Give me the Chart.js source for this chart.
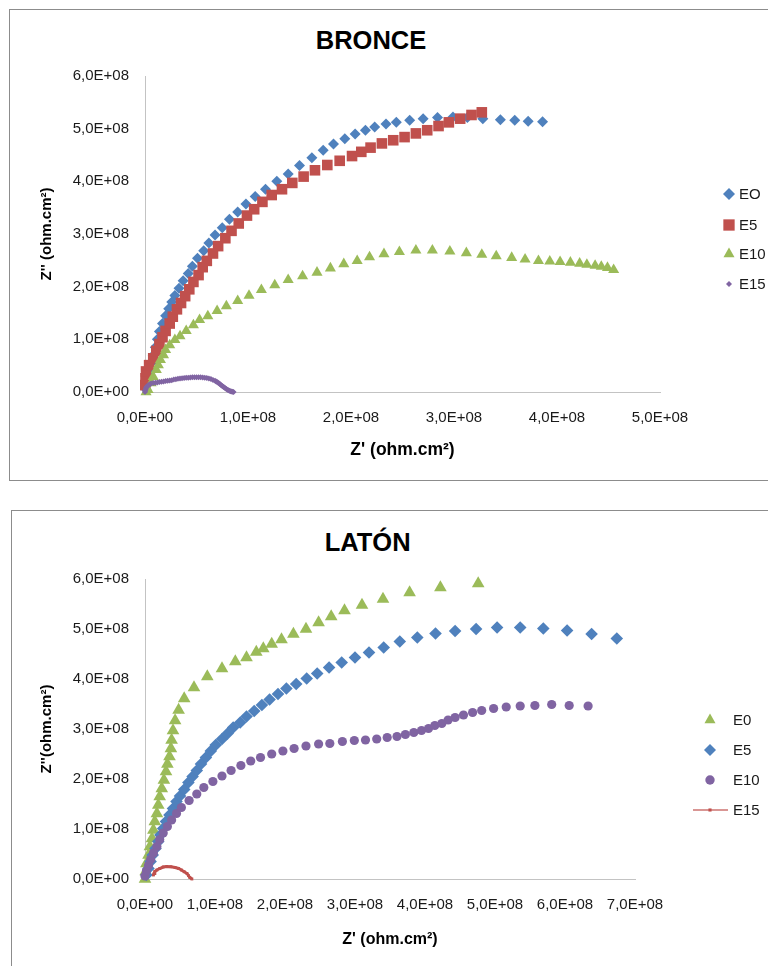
<!DOCTYPE html>
<html>
<head>
<meta charset="utf-8">
<script src="https://cdn.jsdelivr.net/npm/chart.js@4.4.1/dist/chart.umd.min.js"></script>
<style>
html,body{margin:0;padding:0;background:#fff;}
body{width:768px;height:966px;overflow:hidden;position:relative;font-family:"Liberation Sans",Arial,sans-serif;}
.frame{position:absolute;border:1px solid #8c8c8c;box-sizing:border-box;}
#f1{left:9px;top:9px;width:800px;height:472px;}
#f2{left:11px;top:510px;width:800px;height:500px;}
.title{position:absolute;font-weight:bold;font-size:25.5px;line-height:25.5px;white-space:nowrap;transform:translateX(-50%);color:#000;}
#t1{left:371px;top:27.5px;}
#t2{left:367.6px;top:529.5px;}
canvas{position:absolute;left:0;}
#c1{top:0;}
#c2{top:490px;}
</style>
</head>
<body>
<div class="frame" id="f1"></div>
<div class="frame" id="f2"></div>
<div class="title" id="t1">BRONCE</div>
<div class="title" id="t2">LATÓN</div>
<canvas id="c1" width="768" height="490"></canvas>
<canvas id="c2" width="768" height="476"></canvas>
<script>
// ---------- DATA (Z' and Z'' in units of 1E+08 ohm.cm²) ----------
const UNIT = 1e8;

// BRONCE
const bronceLabels = ['EO', 'E5', 'E10', 'E15'];
const bronceXTicks = ['0,0E+00', '1,0E+08', '2,0E+08', '3,0E+08', '4,0E+08', '5,0E+08'];
const bronceYTicks = ['0,0E+00', '1,0E+08', '2,0E+08', '3,0E+08', '4,0E+08', '5,0E+08', '6,0E+08'];

const bronceE0x = [0.01,0.02,0.03,0.045,0.06,0.08,0.10,0.12,0.14,0.17,0.20,0.23,0.26,0.29,0.33,0.37,0.42,0.46,0.51,0.57,0.62,0.68,0.75,0.82,0.90,0.98,1.07,1.17,1.28,1.39,1.50,1.62,1.73,1.83,1.94,2.04,2.14,2.23,2.34,2.44,2.57,2.70,2.84,2.99,3.13,3.28,3.45,3.59,3.72,3.86];
const bronceE0y = [0.05,0.15,0.27,0.40,0.55,0.70,0.85,1.00,1.15,1.30,1.45,1.58,1.71,1.83,1.97,2.11,2.25,2.39,2.54,2.68,2.83,2.98,3.12,3.28,3.42,3.57,3.71,3.85,4.00,4.14,4.30,4.45,4.59,4.71,4.81,4.90,4.97,5.03,5.09,5.12,5.16,5.19,5.21,5.22,5.21,5.19,5.17,5.16,5.14,5.13];

const bronceE5x = [0.003,0.005,0.01,0.04,0.08,0.11,0.14,0.17,0.20,0.24,0.27,0.31,0.35,0.39,0.43,0.47,0.52,0.56,0.60,0.66,0.71,0.78,0.84,0.91,0.99,1.06,1.14,1.23,1.33,1.43,1.54,1.65,1.77,1.89,2.01,2.10,2.19,2.30,2.41,2.52,2.63,2.74,2.85,2.95,3.06,3.17,3.27];
const bronceE5y = [0.13,0.26,0.39,0.51,0.64,0.78,0.91,1.04,1.16,1.30,1.43,1.57,1.69,1.82,1.95,2.09,2.22,2.37,2.49,2.63,2.77,2.92,3.06,3.20,3.35,3.47,3.61,3.74,3.85,3.97,4.09,4.21,4.31,4.39,4.48,4.56,4.64,4.72,4.78,4.84,4.91,4.97,5.05,5.12,5.19,5.26,5.31];

const bronceE10x = [0.01,0.03,0.06,0.08,0.11,0.13,0.15,0.18,0.20,0.24,0.29,0.34,0.40,0.47,0.53,0.61,0.70,0.79,0.90,1.01,1.13,1.26,1.39,1.53,1.67,1.80,1.93,2.06,2.18,2.32,2.47,2.63,2.79,2.96,3.12,3.27,3.41,3.56,3.69,3.82,3.93,4.03,4.13,4.22,4.29,4.37,4.43,4.49,4.55];
const bronceE10y = [0.00,0.04,0.17,0.29,0.42,0.51,0.61,0.70,0.80,0.89,0.99,1.06,1.16,1.27,1.37,1.44,1.54,1.63,1.73,1.83,1.94,2.03,2.13,2.20,2.27,2.35,2.43,2.49,2.56,2.62,2.66,2.69,2.69,2.67,2.64,2.61,2.58,2.55,2.52,2.49,2.48,2.47,2.46,2.44,2.42,2.40,2.38,2.36,2.32];

const bronceE15x = [0.00,0.003,0.006,0.01,0.015,0.02,0.03,0.04,0.05,0.06,0.08,0.10,0.12,0.14,0.16,0.18,0.20,0.22,0.24,0.26,0.28,0.30,0.32,0.34,0.36,0.38,0.40,0.42,0.44,0.46,0.48,0.50,0.52,0.54,0.56,0.58,0.60,0.62,0.64,0.66,0.68,0.69,0.70,0.71,0.72,0.73,0.74,0.75,0.76,0.77,0.78,0.79,0.80,0.81,0.82,0.83,0.84,0.85,0.86];
const bronceE15y = [0.00,0.025,0.05,0.075,0.095,0.11,0.125,0.14,0.15,0.16,0.17,0.175,0.18,0.19,0.195,0.20,0.21,0.215,0.22,0.225,0.235,0.24,0.25,0.255,0.26,0.265,0.27,0.272,0.275,0.278,0.28,0.28,0.28,0.278,0.275,0.27,0.265,0.255,0.245,0.23,0.215,0.20,0.19,0.175,0.16,0.145,0.13,0.115,0.10,0.085,0.07,0.055,0.045,0.035,0.025,0.015,0.01,0.005,0.00];

// LATÓN
const latonLabels = ['E0', 'E5', 'E10', 'E15'];
const latonXTicks = ['0,0E+00', '1,0E+08', '2,0E+08', '3,0E+08', '4,0E+08', '5,0E+08', '6,0E+08', '7,0E+08'];
const latonYTicks = ['0,0E+00', '1,0E+08', '2,0E+08', '3,0E+08', '4,0E+08', '5,0E+08', '6,0E+08'];

const latonE0x = [0.00,0.01,0.02,0.05,0.07,0.10,0.12,0.14,0.17,0.19,0.21,0.24,0.27,0.30,0.32,0.35,0.37,0.38,0.40,0.43,0.48,0.56,0.70,0.89,1.10,1.29,1.45,1.59,1.69,1.81,1.95,2.12,2.30,2.48,2.66,2.85,3.10,3.40,3.78,4.22,4.76];
const latonE0y = [0.00,0.15,0.31,0.48,0.65,0.81,0.98,1.15,1.31,1.48,1.65,1.81,1.98,2.15,2.30,2.45,2.61,2.78,2.97,3.17,3.38,3.61,3.83,4.05,4.21,4.35,4.43,4.54,4.61,4.70,4.79,4.90,5.00,5.13,5.25,5.37,5.48,5.60,5.73,5.83,5.91];

const latonE5x = [0.02,0.05,0.08,0.11,0.15,0.19,0.22,0.26,0.30,0.35,0.40,0.45,0.50,0.56,0.62,0.68,0.74,0.80,0.87,0.94,1.01,1.10,1.18,1.26,1.36,1.45,1.56,1.67,1.78,1.90,2.02,2.16,2.31,2.46,2.63,2.81,3.00,3.20,3.41,3.64,3.89,4.15,4.43,4.73,5.03,5.36,5.69,6.03,6.38,6.74];
const latonE5y = [0.08,0.21,0.35,0.48,0.61,0.75,0.88,1.01,1.15,1.28,1.41,1.55,1.66,1.79,1.93,2.05,2.17,2.30,2.43,2.56,2.68,2.80,2.91,3.03,3.13,3.25,3.36,3.48,3.59,3.70,3.81,3.90,4.01,4.11,4.23,4.33,4.43,4.53,4.63,4.75,4.83,4.91,4.96,5.00,5.03,5.03,5.01,4.97,4.90,4.81];

const latonE10x = [0.00,0.02,0.05,0.08,0.12,0.17,0.21,0.26,0.32,0.38,0.45,0.52,0.63,0.74,0.84,0.97,1.10,1.23,1.37,1.51,1.65,1.81,1.97,2.13,2.30,2.48,2.64,2.82,2.99,3.15,3.31,3.46,3.60,3.72,3.84,3.95,4.05,4.14,4.24,4.33,4.43,4.55,4.68,4.81,4.98,5.16,5.36,5.57,5.81,6.06,6.33];
const latonE10y = [0.06,0.16,0.27,0.39,0.52,0.65,0.79,0.92,1.05,1.18,1.31,1.43,1.57,1.70,1.83,1.95,2.06,2.17,2.27,2.36,2.43,2.50,2.56,2.61,2.66,2.70,2.71,2.75,2.77,2.78,2.80,2.83,2.85,2.89,2.93,2.97,3.01,3.07,3.11,3.18,3.23,3.28,3.33,3.37,3.41,3.44,3.46,3.47,3.49,3.47,3.46];

const latonE15x = [0.12,0.13,0.14,0.17,0.21,0.26,0.31,0.37,0.43,0.48,0.52,0.56,0.60,0.62,0.64,0.67];
const latonE15y = [0.08,0.11,0.15,0.18,0.21,0.24,0.25,0.245,0.23,0.21,0.18,0.145,0.11,0.07,0.03,0.00];

// ---------- COLOURS / STYLES ----------
const BLUE = '#4F81BD', RED = '#C0504D', GREEN = '#9BBB59', PURPLE = '#8064A2';

function pts(xs, ys) { return xs.map((x, i) => ({ x: x * UNIT, y: ys[i] * UNIT })); }

function scatterSet(label, xs, ys, color, style, radius, order) {
  return {
    label, data: pts(xs, ys), order,
    showLine: false, pointStyle: style, pointRadius: radius, pointHoverRadius: radius,
    pointBackgroundColor: color, pointBorderColor: color, pointBorderWidth: 0,
    backgroundColor: color, borderColor: color, clip: false
  };
}

// custom side legend drawn with Chart.js helpers
const sideLegend = {
  id: 'sideLegend',
  afterDraw(chart, args, o) {
    const ctx = chart.ctx;
    ctx.save();
    chart.data.datasets.forEach((ds, i) => {
      const y = o.ys[i];
      const col = ds.pointBackgroundColor;
      if (o.lines && o.lines[i]) {
        ctx.strokeStyle = o.lines[i];
        ctx.lineWidth = 2;
        ctx.beginPath();
        ctx.moveTo(o.lineX0, y); ctx.lineTo(o.lineX1, y);
        ctx.stroke();
      }
      ctx.fillStyle = col;
      const opt = { pointStyle: ds.pointStyle, radius: o.sizes[i], rotation: 0, borderWidth: 0 };
      if (Chart.helpers && Chart.helpers.drawPoint) {
        Chart.helpers.drawPoint(ctx, opt, o.markerX, y);
      } else {
        ctx.beginPath(); ctx.arc(o.markerX, y, o.sizes[i], 0, Math.PI * 2); ctx.fill();
      }
      ctx.fillStyle = '#1a1a1a';
      ctx.font = o.font;
      ctx.textAlign = 'left';
      ctx.textBaseline = 'middle';
      ctx.fillText(ds.label, o.textX, y + 1);
    });
    ctx.restore();
  }
};

function makeOptions(c) {
  return {
    responsive: false, animation: false, events: [],
    layout: { padding: { left: 20, top: c.padTop, right: c.padRight, bottom: 0 } },
    plugins: {
      legend: { display: false }, tooltip: { enabled: false }, title: { display: false },
      sideLegend: c.legend
    },
    scales: {
      x: {
        type: 'linear', min: 0, max: c.xMax * UNIT,
        afterFit: s => { s.height = c.xHeight; },
        ticks: {
          stepSize: UNIT, padding: 17, color: '#1a1a1a',
          font: { family: 'Liberation Sans', size: 15 },
          callback: v => c.xTicks[Math.round(v / UNIT)]
        },
        grid: { display: false, drawTicks: false },
        border: { display: true, color: '#c3c3c3', width: 1 },
        title: {
          display: true, text: c.xTitle, color: '#000',
          font: { family: 'Liberation Sans', size: c.xTitleSize, weight: 'bold' },
          padding: { top: 0, bottom: c.xTitlePad }
        }
      },
      y: {
        type: 'linear', min: 0, max: 6 * UNIT,
        afterFit: s => { s.width = 125; },
        ticks: {
          stepSize: UNIT, padding: 16, color: '#1a1a1a',
          font: { family: 'Liberation Sans', size: 15 },
          callback: v => c.yTicks[Math.round(v / UNIT)]
        },
        grid: { display: false, drawTicks: false },
        border: { display: true, color: '#c3c3c3', width: 1 },
        title: {
          display: true, text: c.yTitle, color: '#000',
          font: { family: 'Liberation Sans', size: 15, weight: 'bold' },
          padding: { top: 17.5, bottom: 0 }
        }
      }
    }
  };
}

new Chart(document.getElementById('c1'), {
  type: 'scatter',
  data: {
    datasets: [
      scatterSet(bronceLabels[0], bronceE0x, bronceE0y, BLUE, 'rectRot', 5.5, 4),
      scatterSet(bronceLabels[1], bronceE5x, bronceE5y, RED, 'rect', 7.5, 3),
      scatterSet(bronceLabels[2], bronceE10x, bronceE10y, GREEN, 'triangle', 6.4, 2),
      scatterSet(bronceLabels[3], bronceE15x, bronceE15y, PURPLE, 'rectRot', 3, 1)
    ]
  },
  options: makeOptions({
    padTop: 76, padRight: 108, xMax: 5, xHeight: 98,
    xTicks: bronceXTicks, yTicks: bronceYTicks,
    xTitle: "Z' (ohm.cm²)", xTitleSize: 17.5, xTitlePad: 29.1,
    yTitle: "Z'' (ohm.cm²)",
    legend: { markerX: 729, textX: 739, ys: [194, 225, 254, 284], sizes: [6, 8, 6.4, 3], font: '15px "Liberation Sans"' }
  }),
  plugins: [sideLegend]
});

const latonE15 = scatterSet(latonLabels[3], latonE15x, latonE15y, RED, 'rect', 2, 1);
latonE15.showLine = true;
latonE15.borderWidth = 3;
latonE15.tension = 0;

new Chart(document.getElementById('c2'), {
  type: 'scatter',
  data: {
    datasets: [
      scatterSet(latonLabels[0], latonE0x, latonE0y, GREEN, 'triangle', 7.3, 4),
      scatterSet(latonLabels[1], latonE5x, latonE5y, BLUE, 'rectRot', 6.3, 3),
      scatterSet(latonLabels[2], latonE10x, latonE10y, PURPLE, 'circle', 4.6, 2),
      latonE15
    ]
  },
  options: makeOptions({
    padTop: 89, padRight: 133, xMax: 7, xHeight: 87,
    xTicks: latonXTicks, yTicks: latonYTicks,
    xTitle: "Z' (ohm.cm²)", xTitleSize: 16, xTitlePad: 16.4,
    yTitle: "Z''(ohm.cm²)",
    legend: { markerX: 710, textX: 733, ys: [720 - 490, 750 - 490, 780 - 490, 810 - 490], sizes: [6.4, 6, 4.7, 2.2], font: '15px "Liberation Sans"',
              lines: [null, null, null, '#D99694'], lineX0: 693, lineX1: 728 }
  }),
  plugins: [sideLegend]
});
</script>
</body>
</html>
